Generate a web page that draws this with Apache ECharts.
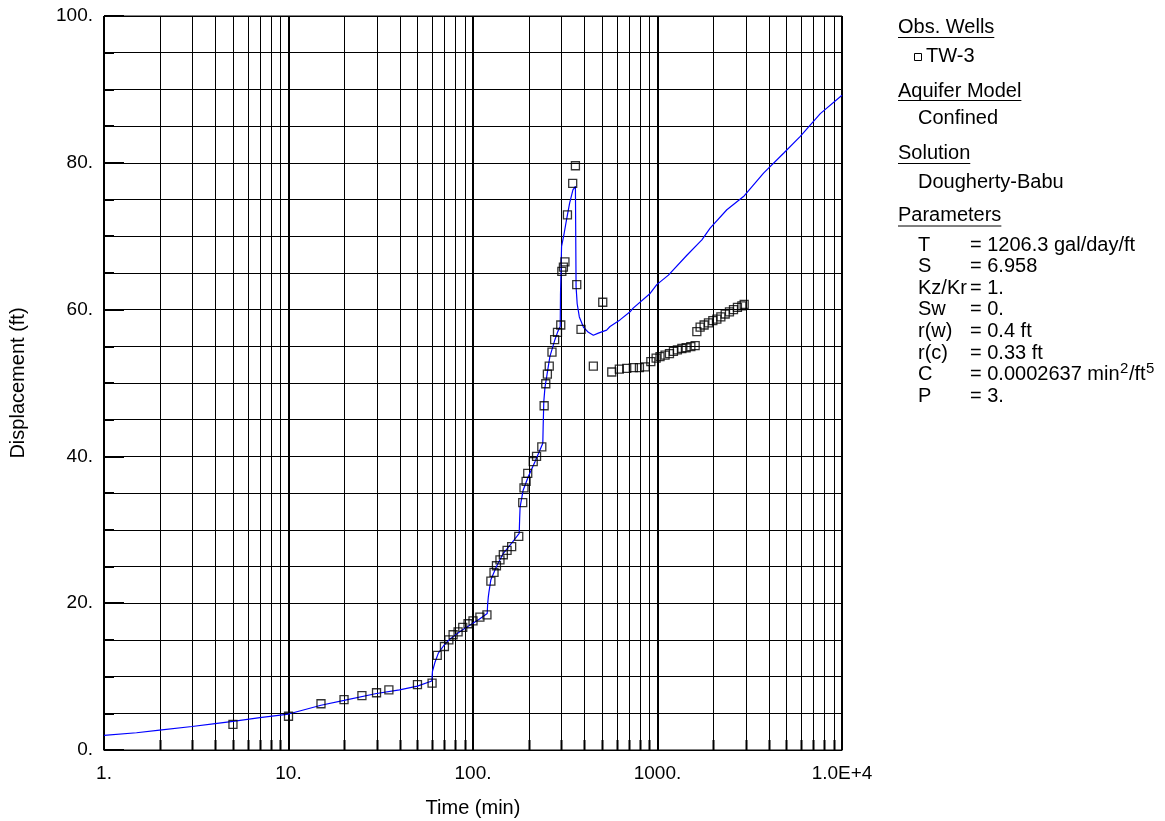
<!DOCTYPE html>
<html><head><meta charset="utf-8">
<script src="https://cdn.jsdelivr.net/npm/echarts@6/dist/echarts.min.js"></script>
<style>html,body{margin:0;padding:0;background:#fff}#c{width:1165px;height:821px}</style>
</head><body><div id="c"></div>
<script>
// ---- data ----
const xTickValues = [1, 10, 100, 1000, 10000];
const xTickLabels = ['1.', '10.', '100.', '1000.', '1.0E+4'];
const yTickValues = [0, 20, 40, 60, 80, 100];
const yTickLabels = ['0.', '20.', '40.', '60.', '80.', '100.'];
const minorGridT = [2,3,4,5,6,7,8,9,20,30,40,50,60,70,80,90,200,300,400,500,600,700,800,900,2000,3000,4000,5000,6000,7000,8000,9000];

const obsT = [5,10,15,20,25,30,35,50,60,64,70,74,78,83,88,94,100,109,119,125,130,134,140,146,153,162,177,186,189,194,198,212,221,236,243,248,253,259,268,277,287,299,303,309,315,325,347,359,365,385,449,505,565,621,681,740,798,857,920,983,1032,1099,1161,1220,1282,1355,1430,1516,1600,1634,1702,1789,1889,1995,2098,2205,2328,2455,2582,2712,2866,2950];
const obsD = [3.5,4.6,6.3,6.85,7.4,7.8,8.2,8.9,9.1,12.9,14.1,15.0,15.7,16.1,16.7,17.2,17.6,18.1,18.4,23.0,24.2,25.1,25.9,26.6,27.2,27.7,29.1,33.7,35.7,36.6,37.7,39.3,40.0,41.3,46.9,49.9,51.2,52.3,54.2,55.9,56.9,57.9,65.2,65.8,66.5,72.9,77.2,79.6,63.4,57.3,52.3,61.0,51.5,51.9,52.0,52.1,52.1,52.2,52.9,53.4,53.6,53.8,54.0,54.3,54.5,54.7,54.8,54.95,55.1,57.0,57.6,57.9,58.2,58.5,58.7,59.0,59.4,59.7,60.0,60.3,60.5,60.7];

const curveT = [1,1.5,2,3,4,5,7,10,15,20,30,40,50,59.8,60.3,62.3,64.9,69.3,74.8,84.7,96,108,119.4,120,121,122,125,134,146,162,178,179,180,187,199,217,239,240,242,245.5,261,278,288,297,298,300,302,312,321,334,348,359,362,367,377,397,422,449,478,530,553,626,710,738,912,991,1146,1443,1740,1929,2376,2925,3757,4823,5942,7627,10000];
const curveD = [2.0,2.35,2.7,3.2,3.6,3.9,4.4,4.9,6.1,6.75,7.7,8.2,8.7,9.4,10.7,12.0,13.2,14.2,15.1,16.1,17.0,17.8,18.6,19.8,20.8,21.5,23.2,25.0,26.8,28.2,29.5,31.5,33.1,35.4,37.2,39.3,41.8,44.0,47.5,49.4,53.6,55.9,57.0,57.7,62.0,65.4,68.6,70.4,72.2,74.5,76.3,76.8,63.1,60.8,59.0,57.6,56.9,56.5,56.8,57.2,57.7,58.6,59.7,60.2,62.2,63.4,64.7,67.4,69.5,71.1,73.6,75.4,78.6,81.3,83.6,86.7,89.2];

const legendHeads = ['Obs. Wells', 'Aquifer Model', 'Solution', 'Parameters'];
const wellName = 'TW-3';
const modelName = 'Confined';
const solutionName = 'Dougherty-Babu';
const paramNames = ['T', 'S', 'Kz/Kr', 'Sw', 'r(w)', 'r(c)', 'C', 'P'];
const paramValues = ['= 1206.3 gal/day/ft', '= 6.958', '= 1.', '= 0.', '= 0.4 ft', '= 0.33 ft', null, '= 3.'];

// ---- rendering ----
const FONT = '"Liberation Sans", Arial, sans-serif';
const AX = 19, LG = 20;
const ctx = document.createElement('canvas').getContext('2d');
function tw(text, size) { ctx.font = size + 'px ' + FONT; return ctx.measureText(text).width; }
function txt(x, y, text, size, align) {
  return { type: 'text', x: x, y: y, silent: true,
    style: { text: text, fill: '#000', font: size + 'px ' + FONT, verticalAlign: 'middle', align: align || 'left' } };
}
const graphics = [];
// axis names
graphics.push(txt(473, 808, 'Time (min)', LG, 'center'));
graphics.push({ type: 'text', x: 18, y: 383, rotation: Math.PI / 2, silent: true,
  style: { text: 'Displacement (ft)', fill: '#000', font: LG + 'px ' + FONT, verticalAlign: 'middle', align: 'center' } });
// legend
const headY = [27, 91, 153.5, 215];
const ulY = [37.5, 100.5, 163.5, 226];
legendHeads.forEach((h, i) => {
  graphics.push(txt(898, headY[i], h, LG));
  graphics.push({ type: 'line', silent: true, shape: { x1: 898, y1: ulY[i], x2: 898 + tw(h, LG), y2: ulY[i] }, style: { stroke: '#000', lineWidth: 1 } });
});
graphics.push({ type: 'rect', silent: true, shape: { x: 914.5, y: 53.5, width: 7, height: 7 }, style: { fill: 'none', stroke: '#000', lineWidth: 1 } });
graphics.push(txt(926, 56.5, wellName, LG));
graphics.push(txt(918, 118.5, modelName, LG));
graphics.push(txt(918, 182.5, solutionName, LG));
paramNames.forEach((n, i) => {
  const y = 245 + i * 21.65;
  graphics.push(txt(918, y, n, LG));
  if (paramValues[i] !== null) {
    graphics.push(txt(970, y, paramValues[i], LG));
  } else {
    let x = 970;
    const a = '= 0.0002637 min';
    graphics.push(txt(x, y, a, LG)); x += tw(a, LG) + 0.5;
    graphics.push(txt(x, y - 6, '2', 15)); x += tw('2', 15) + 0.5;
    graphics.push(txt(x, y, '/ft', LG)); x += tw('/ft', LG) + 0.5;
    graphics.push(txt(x, y - 6, '5', 15));
  }
});

const chart = echarts.init(document.getElementById('c'), null, { renderer: 'canvas' });
chart.setOption({
  animation: false,
  backgroundColor: '#fff',
  grid: { left: 104, right: 323, top: 16, bottom: 71, show: true, borderColor: '#000', borderWidth: 1, backgroundColor: 'transparent' },
  xAxis: {
    type: 'log', logBase: 10, min: 1, max: 10000,
    axisLine: { show: true, lineStyle: { color: '#000', width: 1 } },
    axisTick: { show: true, inside: true, length: 10, lineStyle: { color: '#000', width: 2 } },
    axisLabel: { color: '#000', fontSize: AX, fontFamily: FONT, margin: 14,
      formatter: v => xTickLabels[xTickValues.indexOf(Math.pow(10, Math.round(Math.log10(v))))] },
    splitLine: { show: true, lineStyle: { color: '#000', width: 2 } }
  },
  yAxis: {
    type: 'value', min: 0, max: 100, interval: 20,
    axisLine: { show: true, lineStyle: { color: '#000', width: 1 } },
    axisTick: { show: true, inside: true, length: 20, lineStyle: { color: '#000', width: 2 } },
    minorTick: { show: true, splitNumber: 4, length: 10, lineStyle: { color: '#000', width: 2 } },
    axisLabel: { color: '#000', fontSize: AX, fontFamily: FONT, margin: 11,
      formatter: v => yTickLabels[yTickValues.indexOf(Math.round(v))] },
    splitLine: { show: true, lineStyle: { color: '#000', width: 1 } },
    minorSplitLine: { show: true, lineStyle: { color: '#000', width: 1 } }
  },
  graphic: graphics,
  series: [
    {
      type: 'custom', z: 1, silent: true,
      data: minorGridT.map(t => [t, 0]),
      encode: { x: 0, y: 1 },
      renderItem: (params, api) => {
        const p0 = api.coord([api.value(0), 0]);
        const p1 = api.coord([api.value(0), 100]);
        const x = Math.round(p0[0]) + 0.5;
        return { type: 'group', children: [
          { type: 'line', shape: { x1: x, y1: p0[1], x2: x, y2: p1[1] }, style: { stroke: '#000', lineWidth: 1 } },
          { type: 'line', shape: { x1: x, y1: p0[1], x2: x, y2: p0[1] - 10 }, style: { stroke: '#000', lineWidth: 2 } }
        ] };
      }
    },
    {
      type: 'line', z: 3, name: 'Model',
      data: curveT.map((t, i) => [t, curveD[i]]),
      showSymbol: false, symbol: 'none', smooth: false,
      lineStyle: { color: '#0000FF', width: 1.2 }
    },
    {
      type: 'scatter', z: 4, name: 'TW-3',
      data: obsT.map((t, i) => [t, obsD[i]]),
      symbol: 'rect', symbolSize: 8,
      itemStyle: { color: 'rgba(0,0,0,0)', borderColor: '#000', borderWidth: 1.3 }
    }
  ]
});
</script></body></html>
